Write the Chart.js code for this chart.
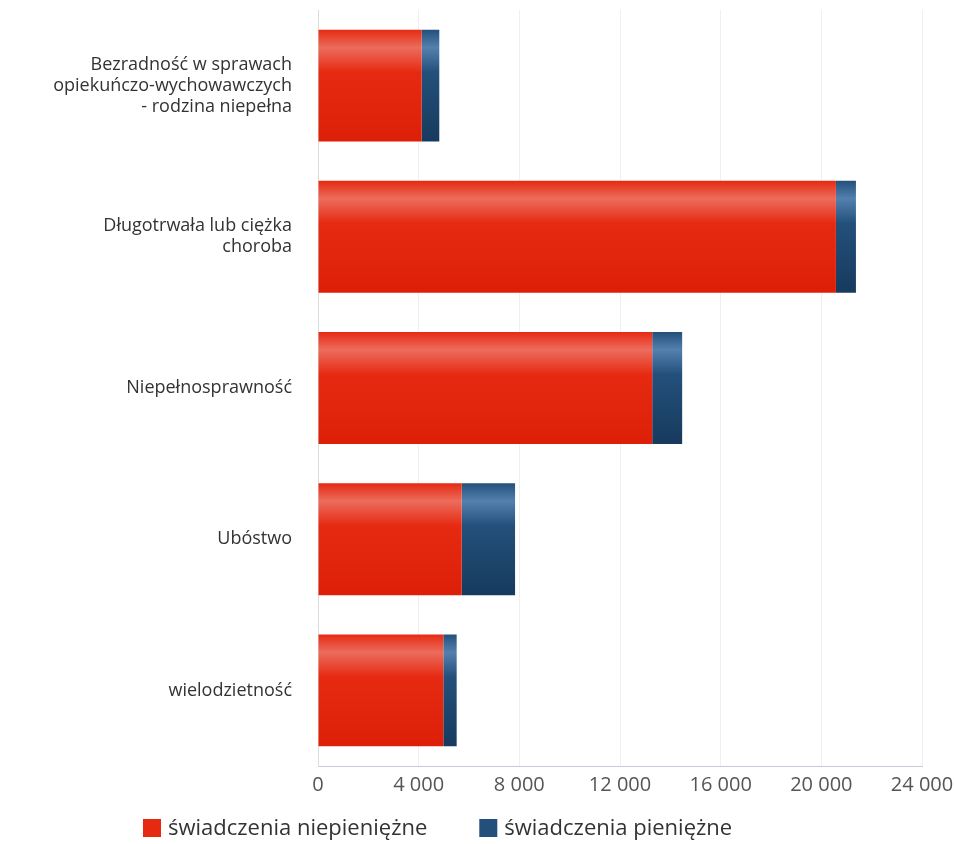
<!DOCTYPE html>
<html>
<head>
<meta charset="utf-8">
<script src="https://cdn.jsdelivr.net/npm/chart.js@4"></script>
<style>
html,body{margin:0;padding:0;background:#fff;}
#wrap{width:954px;height:844px;position:relative;}
</style>
</head>
<body>
<div id="wrap"><canvas id="c" width="954" height="844"></canvas></div>
<script>
const categories = [
  ["Bezradność w sprawach", "opiekuńczo-wychowawczych", "- rodzina niepełna"],
  ["Długotrwała lub ciężka", "choroba"],
  ["Niepełnosprawność"],
  ["Ubóstwo"],
  ["wielodzietność"]
];
const seriesNames = ["świadczenia niepieniężne", "świadczenia pieniężne"];
const seriesColors = ["#e62a12", "#23507b"];
const niepieniezne = [4120, 20580, 13280, 5710, 4980];
const pieniezne = [700, 795, 1190, 2120, 530];
const xMin = 0, xMax = 24000, xStep = 4000;

const BAR_PCT = 0.74;

function fmt(v){ return String(v).replace(/\B(?=(\d{3})+(?!\d))/g, ' '); }

function grad(ctx, light, mid, dark){
  const chart = ctx.chart;
  const ys = chart.scales && chart.scales.y;
  if(!chart.chartArea || !ys || ctx.dataIndex === undefined) return mid;
  const c = ys.getPixelForValue(ctx.dataIndex);
  const step = ys.getPixelForValue(1) - ys.getPixelForValue(0);
  const h = Math.abs(step) * BAR_PCT;
  if(!isFinite(c) || !isFinite(h) || h <= 0) return mid;
  const g = chart.ctx.createLinearGradient(0, c - h/2, 0, c + h/2);
  g.addColorStop(0, mid);
  g.addColorStop(0.16, light);
  g.addColorStop(0.38, mid);
  g.addColorStop(1, dark);
  return g;
}

// Legend drawn below the axis, items spaced like the original
const bottomLegend = {
  id: 'bottomLegend',
  afterDraw(chart) {
    const ctx = chart.ctx;
    ctx.save();
    ctx.font = '22px "Open Sans"';
    ctx.textBaseline = 'middle';
    ctx.textAlign = 'left';
    const box = 18, textGap = 7, itemGap = 52;
    const cy = 828;
    let x = 143;
    chart.data.datasets.forEach((d, i) => {
      ctx.fillStyle = seriesColors[i];
      ctx.fillRect(x, cy - box/2, box, box);
      ctx.fillStyle = '#333';
      ctx.fillText(d.label, x + box + textGap, cy + 1);
      x += box + textGap + ctx.measureText(d.label).width + itemGap;
    });
    ctx.restore();
  }
};

new Chart(document.getElementById('c'), {
  type: 'bar',
  data: {
    labels: categories,
    datasets: [
      { label: seriesNames[0], data: niepieniezne,
        backgroundColor: c => grad(c, '#ec6c5c', seriesColors[0], '#dd1f08'),
        borderWidth: 0, barPercentage: BAR_PCT, categoryPercentage: 1 },
      { label: seriesNames[1], data: pieniezne,
        backgroundColor: c => grad(c, '#5380ad', seriesColors[1], '#173a5e'),
        borderWidth: 0, barPercentage: BAR_PCT, categoryPercentage: 1 }
    ]
  },
  plugins: [bottomLegend],
  options: {
    indexAxis: 'y',
    responsive: false,
    animation: false,
    layout: { padding: { top: 10, right: 32, bottom: 40, left: 0 } },
    scales: {
      x: {
        stacked: true, min: xMin, max: xMax,
        ticks: { stepSize: xStep, callback: v => fmt(v), color: '#555', font: { family: 'Open Sans', size: 20 }, padding: 7 },
        grid: { color: '#f0f0f3', drawTicks: false },
        border: { color: '#c8c8d8', width: 1 },
        afterFit: s => { s.paddingLeft = 0; s.paddingRight = 0; }
      },
      y: {
        stacked: true,
        ticks: { color: '#333', font: { family: 'Open Sans', size: 18, lineHeight: 1.17 }, padding: 26 },
        grid: { display: false, drawTicks: false },
        border: { color: '#dcdcdc', width: 1 },
        afterFit: s => { s.width = 318; s.paddingTop = 0; s.paddingBottom = 0; }
      }
    },
    plugins: {
      legend: { display: false },
      tooltip: { enabled: false }
    }
  }
});
</script>
</body>
</html>
